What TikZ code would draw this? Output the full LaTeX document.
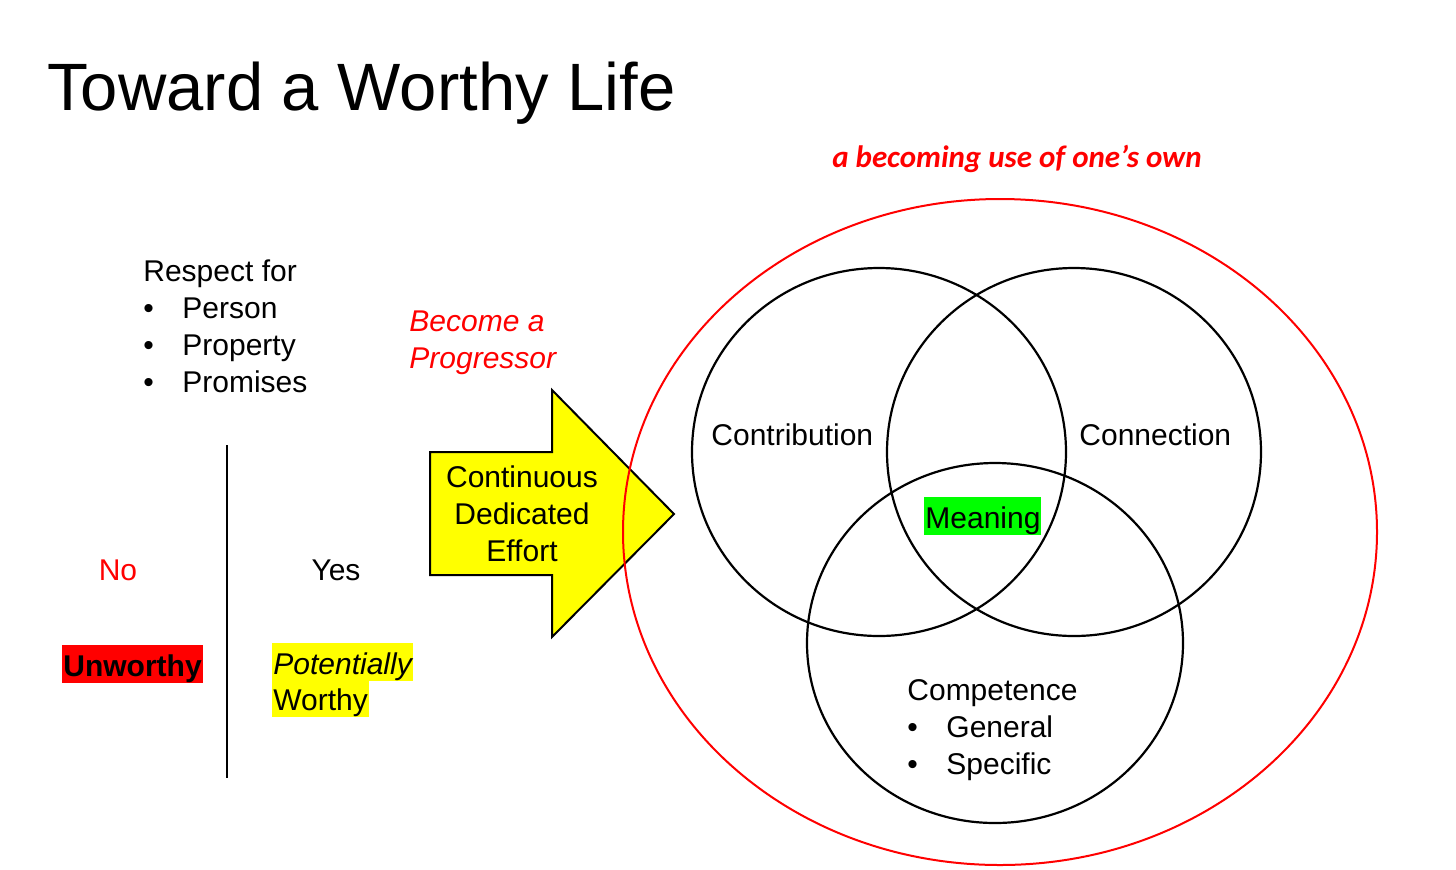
\documentclass[tikz,border=0pt]{standalone}
\usepackage{fontspec}
\setmainfont{Liberation Sans}
\newfontfamily\carlito{Carlito}
\definecolor{slidered}{RGB}{255,0,0}
\definecolor{slideyellow}{RGB}{255,255,0}
\definecolor{slidegreen}{RGB}{0,255,0}
\tikzset{
  txt/.style={anchor=base west, inner sep=0pt, font=\fontsize{15}{18}\selectfont},
  mid/.style={anchor=base, inner sep=0pt, font=\fontsize{15}{18}\selectfont},
  hl/.style={txt, inner xsep=0.5pt, text height=15.5pt, text depth=3.5pt},
  venn/.style={draw=black, line width=1.1pt}
}
\begin{document}
\begin{tikzpicture}[x=0.5pt,y=-0.5pt]
		\useasboundingbox (0,0) rectangle (1456,869);
		\node[anchor=base west,inner sep=0pt,font=\fontsize{33.5}{40}\selectfont] (title) at (47,110) {Toward a Worthy Life};
		
		\node[txt] (respect) at (143,281) {Respect for};
		\foreach \y/\w [count=\i] in {318/Person,355/Property,392/Promises}{
			\node[txt] (dot\i) at (143,\y) {\textbullet};
			\node[txt] (resp\i) at (182,\y) {\w};
		}
		
		\draw[line width=1pt] (227,445) -- (227,778);
		\node[mid,text=slidered] (no) at (118,580) {No};
		\node[mid] (yes) at (336,580) {Yes};
		\node[hl,fill=slidered,font=\fontsize{15}{18}\selectfont\bfseries] (unworthy) at (62,676) {Unworthy};
		\node[hl,fill=slideyellow,font=\fontsize{15}{18}\selectfont\itshape] (potent) at (272,674) {Potentially};
		\node[hl,fill=slideyellow] (worthy) at (272,710) {Worthy};
		
		\node[txt,text=slidered,font=\fontsize{15}{18}\selectfont\itshape] (become) at (409,331) {Become a};
		\node[txt,text=slidered,font=\fontsize{15}{18}\selectfont\itshape] (progr) at (409,368) {Progressor};
		
		\fill[slideyellow,draw=black,line width=1pt,line join=miter] (430,452) -- (552,452) -- (552,390) -- (674,514) -- (552,637) -- (552,575) -- (430,575) -- cycle;
		\node[mid] (effort1) at (522,487) {Continuous};
		\node[mid] (effort2) at (522,524) {Dedicated};
		\node[mid] (effort3) at (522,561) {Effort};
		
		\node[anchor=base,inner sep=0pt,text=slidered,font=\carlito\fontsize{15.5}{19}\selectfont\bfseries\itshape] (own) at (1017,167) {a becoming use of one’s own};
		\draw[slidered,line width=1pt] (1000,532) ellipse [x radius=377,y radius=333];
		
		\draw[venn] (879,452) ellipse [x radius=187,y radius=184];
		\draw[venn] (1074,452) ellipse [x radius=187,y radius=184];
		\draw[venn] (995,643) ellipse [x radius=188,y radius=180];
		
		\node[txt] (contrib) at (711,445) {Contribution};
		\node[txt] (connect) at (1079,445) {Connection};
		\node[hl,fill=slidegreen] (meaning) at (924,528) {Meaning};
		\node[txt] (compet) at (907,700) {Competence};
		\foreach \y/\w [count=\i] in {737/General,774/Specific}{
			\node[txt] (cdot\i) at (907,\y) {\textbullet};
			\node[txt] (comp\i) at (946,\y) {\w};
		}
	\end{tikzpicture}
\end{document}
